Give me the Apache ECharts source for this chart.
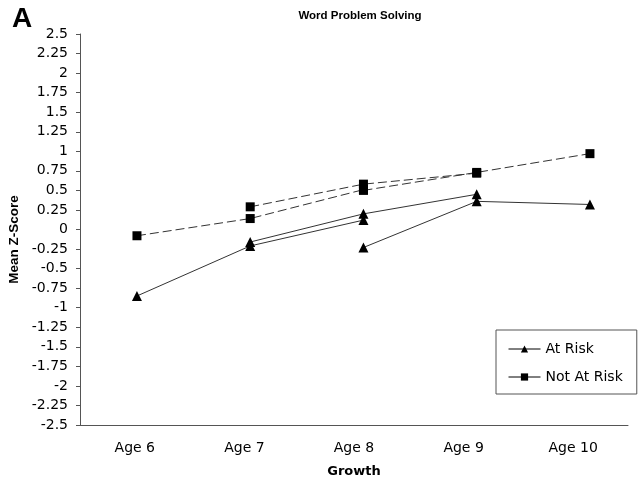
<!DOCTYPE html>
<html>
<head>
<meta charset="utf-8">
<script src="https://cdn.jsdelivr.net/npm/echarts@6/dist/echarts.min.js"></script>
<style>html,body{margin:0;padding:0;background:#fff}#c{width:644px;height:490px}</style>
</head>
<body>
<div id="c"></div>
<script>
const categories = ['Age 6', 'Age 7', 'Age 8', 'Age 9', 'Age 10'];
const yTicks = [-2.5, 2.5, 0.25];
// At Risk cohorts (values by age index; null = not measured)
const atRiskCohort1 = [-0.85, -0.21, 0.12, null, null];
const atRiskCohort2 = [null, -0.16, 0.20, 0.45, null];
const atRiskCohort3 = [null, null, -0.23, 0.36, 0.32];
// Not At Risk cohorts
const notRiskCohort1 = [-0.08, 0.14, 0.51, null, null];
const notRiskCohort2 = [null, 0.29, 0.58, 0.72, null];
const notRiskCohort3 = [null, null, 0.50, 0.73, 0.97];

function pts(arr){ const o=[]; arr.forEach((v,i)=>{ if(v!==null) o.push([i,v]); }); return o; }

const font = 'Liberation Sans, Arial, sans-serif';
const wide = 'DejaVu Sans, sans-serif';
function riskSeries(arr){
  return {name:'At Risk', type:'line', xAxisIndex:1, data:pts(arr), symbol:'triangle', symbolSize:10,
    itemStyle:{color:'#000'}, lineStyle:{color:'#333', width:1, type:'solid'}, z:3};
}
function notSeries(arr){
  return {name:'Not At Risk', type:'line', xAxisIndex:1, data:pts(arr), symbol:'rect', symbolSize:9,
    itemStyle:{color:'#000'}, lineStyle:{color:'#333', width:1, type:[9,4]}, z:3};
}
const chart = echarts.init(document.getElementById('c'), null, {renderer:'canvas'});
chart.setOption({
  animation:false,
  backgroundColor:'#fff',
  textStyle:{fontFamily:font},
  title:[
    {text:'Word Problem Solving', left:355, top:5, textAlign:'center', textStyle:{fontSize:11.5, fontWeight:'bold', color:'#000', fontFamily:font}},
    {text:'A', left:7, top:0, textStyle:{fontSize:28, fontWeight:'bold', color:'#000', fontFamily:font}}
  ],
  grid:{left:80, right:16, top:34, bottom:65, containLabel:false, outerBoundsMode:'none'},
  xAxis:[
    {type:'category', data:categories, boundaryGap:true, name:'Growth', nameLocation:'middle', nameGap:40,
     nameTextStyle:{fontSize:13, fontWeight:'bold', color:'#000', fontFamily:wide},
     axisLine:{onZero:false, lineStyle:{color:'#555', width:1}}, axisTick:{length:4, lineStyle:{color:'#555'}},
     axisLabel:{fontSize:14, color:'#000', margin:16, fontFamily:wide}, splitLine:{show:false}},
    {type:'value', min:-0.503, max:4.336, show:false, axisLine:{onZero:false}, splitLine:{show:false}}
  ],
  yAxis:{type:'value', min:yTicks[0], max:yTicks[1], interval:yTicks[2], name:'Mean Z-Score', nameLocation:'middle', nameGap:58,
    nameTextStyle:{fontSize:13.5, fontWeight:'bold', color:'#000', fontFamily:font, padding:[0,20,0,0]},
    axisLine:{show:true, onZero:false, lineStyle:{color:'#555', width:1}}, axisTick:{show:true, length:4, lineStyle:{color:'#555'}},
    axisLabel:{fontSize:14, color:'#000', margin:12, fontFamily:wide}, splitLine:{show:false}},
  legend:{data:['At Risk','Not At Risk'], orient:'vertical', left:496, top:330,
    borderColor:'#555', borderWidth:1, padding:[12,14,10,12], itemGap:14, itemWidth:32, itemHeight:9,
    textStyle:{fontSize:14, color:'#000', fontFamily:wide},
    lineStyle:{type:'solid', color:'#000', width:1}},
  series:[
    riskSeries(atRiskCohort1), riskSeries(atRiskCohort2), riskSeries(atRiskCohort3),
    notSeries(notRiskCohort1), notSeries(notRiskCohort2), notSeries(notRiskCohort3)
  ]
});
</script>
</body>
</html>
